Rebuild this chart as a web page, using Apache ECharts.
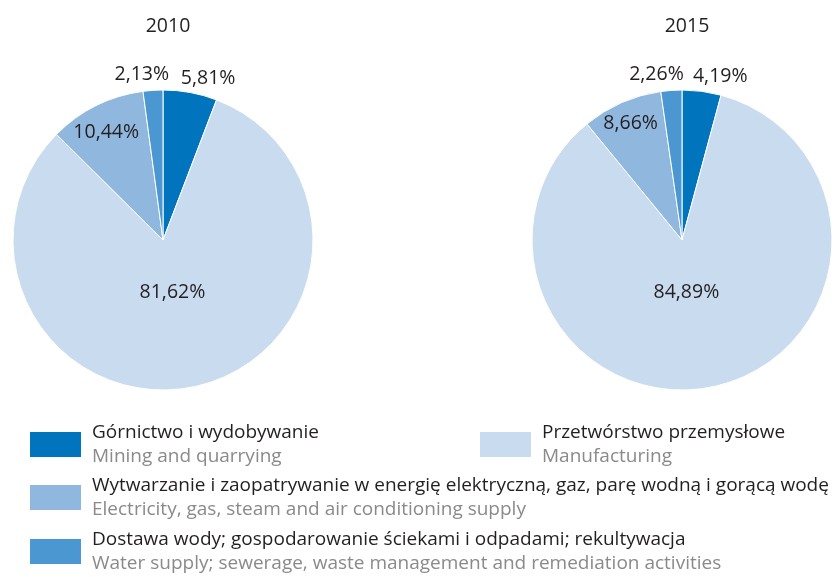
<!DOCTYPE html>
<html>
<head>
<meta charset="utf-8">
<script src="https://cdn.jsdelivr.net/npm/echarts@6/dist/echarts.min.js"></script>
<style>html,body{margin:0;padding:0;background:#fff;}#chart{width:835px;height:577px;}</style>
</head>
<body>
<div id="chart"></div>
<script>
const categoriesPL = [
  'Górnictwo i wydobywanie',
  'Przetwórstwo przemysłowe',
  'Wytwarzanie i zaopatrywanie w energię elektryczną, gaz, parę wodną i gorącą wodę',
  'Dostawa wody; gospodarowanie ściekami i odpadami; rekultywacja'
];
const categoriesEN = [
  'Mining and quarrying',
  'Manufacturing',
  'Electricity, gas, steam and air conditioning supply',
  'Water supply; sewerage, waste management and remediation activities'
];
const years = ['2010', '2015'];
const values2010 = [5.81, 81.62, 10.44, 2.13];
const values2015 = [4.19, 84.89, 8.66, 2.26];
const colors = ['#0074bd', '#c9dbef', '#90b7de', '#4a97d1'];

// label nudges (style only)
const offsets2010 = [[31, -85], [-7, -24], [-22, -38], [-16, -88]];
const offsets2015 = [[28, -86], [-12, -24], [-20, -45], [-20, -88]];

const FONT = '"Open Sans", sans-serif';
const FS = 19.5;
const LFS = 19;

function buildData(vals, offs) {
  return vals.map((v, i) => ({
    name: categoriesPL[i],
    value: v,
    itemStyle: { color: colors[i] },
    label: { offset: offs[i] }
  }));
}

function pieSeries(vals, offs, cx) {
  return {
    type: 'pie',
    center: [cx, 240],
    radius: 150,
    startAngle: 90,
    clockwise: true,
    silent: true,
    animation: false,
    itemStyle: { borderColor: '#ffffff', borderWidth: 1 },
    label: {
      show: true,
      position: 'inside',
      color: '#231f20',
      fontFamily: FONT,
      fontSize: FS,
      formatter: p => p.value.toFixed(2).replace('.', ',') + '%'
    },
    labelLine: { show: false },
    emphasis: { disabled: true },
    data: buildData(vals, offs)
  };
}

const enMap = {};
categoriesPL.forEach((n, i) => { enMap[n] = categoriesEN[i]; });

function legendFor(names, left, top) {
  return {
    data: names,
    left: left,
    top: top,
    padding: 0,
    orient: 'horizontal',
    icon: 'rect',
    itemWidth: 53,
    itemHeight: 27,
    selectedMode: false,
    formatter: n => '{pl|' + n + '}\n{en|' + enMap[n] + '}',
    textStyle: {
      padding: [0, 0, 0, 5],
      rich: {
        pl: { fontFamily: FONT, fontSize: LFS, color: '#231f20', lineHeight: 24 },
        en: { fontFamily: FONT, fontSize: LFS, color: '#8a8a8a', lineHeight: 24 }
      }
    }
  };
}

const chart = echarts.init(document.getElementById('chart'), null, { renderer: 'canvas' });
const titleStyle = { fontFamily: FONT, fontSize: FS, fontWeight: 'normal', color: '#231f20' };
chart.setOption({
  backgroundColor: '#ffffff',
  animation: false,
  title: [
    { text: years[0], left: 163, top: 11, textAlign: 'center', textStyle: titleStyle },
    { text: years[1], left: 682, top: 11, textAlign: 'center', textStyle: titleStyle }
  ],
  legend: [
    legendFor([categoriesPL[0]], 28, 423),
    legendFor([categoriesPL[1]], 478, 423),
    legendFor([categoriesPL[2]], 28, 476),
    legendFor([categoriesPL[3]], 28, 530)
  ],
  series: [
    pieSeries(values2010, offsets2010, 163),
    pieSeries(values2015, offsets2015, 682)
  ]
});
</script>
</body>
</html>
